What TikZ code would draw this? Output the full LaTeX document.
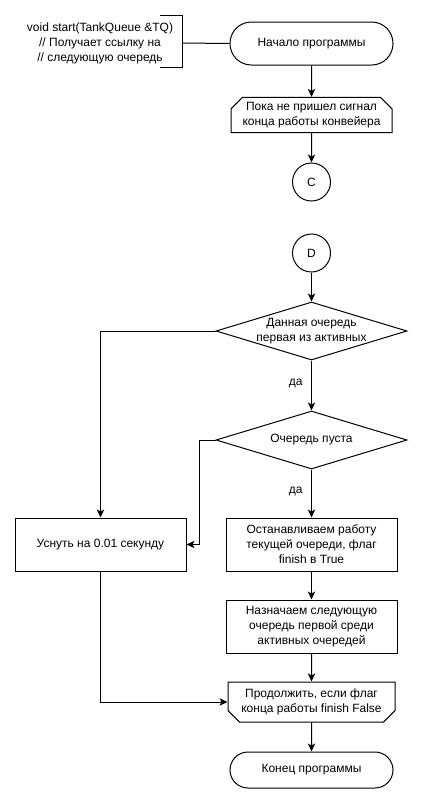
\documentclass[tikz,border=0pt]{standalone}
\usepackage{fontspec}
\setmainfont{Liberation Sans}
\usetikzlibrary{shapes.geometric,shapes.misc,arrows.meta}
\begin{document}
\begin{tikzpicture}[x=0.75pt,y=-0.75pt,
  font=\fontsize{9}{11.25}\selectfont,
  base/.style={draw, line width=0.75pt, align=center, inner sep=0pt},
  term/.style={base, rectangle, minimum width=122.25pt},
  loopa/.style={base, chamfered rectangle, chamfered rectangle xsep=5pt,
    minimum width=120.75pt, minimum height=25.5pt},
  conn/.style={base, circle, minimum size=28.5pt},
  dec/.style={base, diamond, minimum width=143.25pt, minimum height=43.5pt},
  proc/.style={base, rectangle, minimum width=128.25pt, minimum height=39.75pt},
  arr/.style={line width=0.75pt, -{Stealth[length=6pt,width=5.5pt,inset=1.5pt]}},
  ln/.style={line width=0.75pt}
]
\useasboundingbox (0,0) rectangle (422,808);
\fill[white] (0,0) rectangle (422,808);

\node[term, minimum height=32.25pt, rounded corners=16pt] (start) at (311.5,43.5) {Начало программы};
\node[loopa, chamfered rectangle corners={north west,north east}] (loop1) at (311.5,115) {Пока не пришел сигнал\\конца работы конвейера};
\node[conn] (C) at (311.5,182) {C};
\node[conn] (D) at (311.5,253) {D};
\node[dec] (d1) at (311.5,331) {};
\node (d1t) at (311.5,331) [align=center] {Данная очередь\\первая из активных};
\node[dec] (d2) at (311.5,440) {};
\node (d2t) at (311.5,440) {Очередь пуста};
\node[proc] (sleep) at (100.5,544.5) {Уснуть на 0.01 секунду};
\node[proc] (b1) at (311.5,544.5) {Останавливаем работу\\текущей очереди, флаг\\finish в True};
\node[proc] (b2) at (311.5,626.5) {Назначаем следующую\\очередь первой среди\\активных очередей};
\node[loopa, chamfered rectangle corners={south west,south east}, minimum width=125.25pt, minimum height=30pt] (loop2) at (311.5,702) {Продолжить, если флаг\\конца работы finish False};
\node[term, minimum height=27pt, rounded corners=13.5pt] (end) at (311.5,770) {Конец программы};

% comment
\node[align=center] (cmt) at (100,43) {void start(TankQueue \&TQ)\\// Получает ссылку на\\// следующую очередь};
\coordinate (br) at (182,43);
\draw[ln] (160,15) -- (182,15) -- (182,67) -- (160,67);
\draw[ln] (start.west) -- (br);

% connectors
\draw[arr] (start) -- (loop1);
\draw[arr] (loop1) -- (C);
\draw[arr] (D) -- (d1);
\draw[arr] (d1) -- node[left=3pt, pos=0.45] (y1) {да} (d2);
\draw[arr] (d1.west) -| (sleep.north);
\draw[arr] (d2.west) -- ++(-16,0) |- (sleep.east);
\draw[arr] (d2) -- node[left=3pt, pos=0.45] (y2) {да} (b1);
\draw[arr] (b1) -- (b2);
\draw[arr] (b2) -- (loop2);
\draw[arr] (sleep.south) |- (loop2.west);
\draw[arr] (loop2) -- (end);
\end{tikzpicture}
\end{document}
